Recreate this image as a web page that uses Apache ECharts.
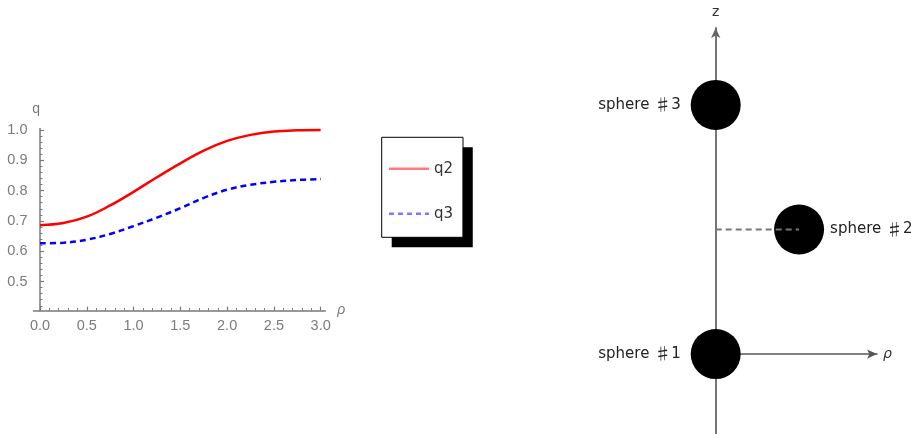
<!DOCTYPE html>
<html>
<head>
<meta charset="utf-8">
<script src="https://cdn.jsdelivr.net/npm/echarts@6/dist/echarts.min.js"></script>
<style>
html,body{margin:0;padding:0;background:#fff;}
#chart{width:911px;height:434px;}
</style>
</head>
<body>
<div id="chart"></div>
<script>
// ---- data (left plot) ----
const rho = [0, 0.25, 0.5, 0.75, 1.0, 1.25, 1.5, 1.75, 2.0, 2.25, 2.5, 2.75, 3.0];
const q2  = [0.686, 0.693, 0.714, 0.751, 0.796, 0.844, 0.890, 0.932, 0.964, 0.984, 0.995, 0.999, 1.000];
const q3  = [0.626, 0.628, 0.638, 0.657, 0.683, 0.711, 0.742, 0.776, 0.803, 0.819, 0.829, 0.835, 0.838];
const seriesNames = ['q2', 'q3'];

// tick labels / tick positions
const xMajorTicks = [0, 0.5, 1.0, 1.5, 2.0, 2.5, 3.0];
const xMinorTicks = [0.1, 0.2, 0.3, 0.4, 0.6, 0.7, 0.8, 0.9, 1.1, 1.2, 1.3, 1.4, 1.6, 1.7, 1.8, 1.9, 2.1, 2.2, 2.3, 2.4, 2.6, 2.7, 2.8, 2.9];
const yMajorTicks = [0.5, 0.6, 0.7, 0.8, 0.9, 1.0];
const yMinorTicks = [0.42, 0.44, 0.46, 0.48, 0.52, 0.54, 0.56, 0.58, 0.62, 0.64, 0.66, 0.68, 0.72, 0.74, 0.76, 0.78, 0.82, 0.84, 0.86, 0.88, 0.92, 0.94, 0.96, 0.98];

// ---- data (right diagram) ----
const sphereWord = 'sphere';
const sphereMark = '\u266F';
const sphereIds = ['1', '2', '3'];
const sphereRho = [0, 0.335, 0];
const sphereZ = [0, 0.5, 1.0];

const pairs = (xs, ys) => xs.map((x, i) => [x, ys[i]]);

const axisGray = '#7a7a7a';
const labelGray = '#7c7c7c';
const clear = 'rgba(0,0,0,0)';

const chart = echarts.init(document.getElementById('chart'), null, {renderer: 'canvas'});

const xMin = -0.07, xMax = 3.05, yMin = 0.404, yMax = 1.005;

const legendBase = {
  orient: 'vertical',
  left: 381.7, top: 137.3,
  padding: [24, 10, 16, 6],
  itemGap: 30,
  itemWidth: 40, itemHeight: 14,
  textStyle: {color: '#333', fontSize: 15, fontFamily: 'DejaVu Sans'}
};

const option = {
  backgroundColor: '#fff',
  animation: false,
  grid: [
    {left: 33.45, width: 291.9, top: 128.5, height: 182.1},
    {left: 715.7, width: 161.3, top: 28, height: 406}
  ],
  xAxis: [
    {
      type: 'value', gridIndex: 0, min: xMin, max: xMax,
      position: 'bottom',
      axisLine: {onZero: false, lineStyle: {color: axisGray, width: 1.5}},
      axisTick: {inside: true, length: 4, customValues: xMajorTicks, lineStyle: {color: axisGray, width: 1.2}},
      axisLabel: {customValues: xMajorTicks, margin: 8, color: labelGray, fontSize: 14.5,
                  fontFamily: 'Liberation Sans', formatter: v => v.toFixed(1)},
      splitLine: {show: false},
      name: '\u03C1', nameLocation: 'end', nameGap: 12,
      nameTextStyle: {color: labelGray, fontSize: 14, fontStyle: 'italic', fontFamily: 'Liberation Sans', verticalAlign: 'middle'}
    },
    {
      type: 'value', gridIndex: 0, min: xMin, max: xMax,
      position: 'bottom',
      axisLine: {show: false, onZero: false},
      axisTick: {inside: true, length: 2.5, customValues: xMinorTicks, lineStyle: {color: axisGray, width: 1}},
      axisLabel: {show: false},
      splitLine: {show: false}
    },
    {
      type: 'value', gridIndex: 1, min: 0, max: 0.648,
      axisLine: {onZero: true, symbol: ['none', 'arrow'], symbolSize: [7, 10], lineStyle: {color: '#555', width: 1.5}},
      axisTick: {show: false}, axisLabel: {show: false}, splitLine: {show: false},
      name: '\u03C1', nameLocation: 'end', nameGap: 6,
      nameTextStyle: {color: '#333', fontSize: 14, fontStyle: 'italic', fontFamily: 'DejaVu Sans'}
    }
  ],
  yAxis: [
    {
      type: 'value', gridIndex: 0, min: yMin, max: yMax,
      position: 'left',
      axisLine: {onZero: true, onZeroAxisIndex: 0, lineStyle: {color: axisGray, width: 1.5}},
      axisTick: {inside: true, length: 4, customValues: yMajorTicks, lineStyle: {color: axisGray, width: 1.2}},
      axisLabel: {customValues: yMajorTicks, margin: 6, color: labelGray, fontSize: 14.5,
                  fontFamily: 'Liberation Sans', formatter: v => v.toFixed(1)},
      splitLine: {show: false},
      name: 'q', nameLocation: 'end', nameGap: 12,
      nameTextStyle: {color: labelGray, fontSize: 14, fontFamily: 'Liberation Sans', align: 'right'}
    },
    {
      type: 'value', gridIndex: 0, min: yMin, max: yMax,
      position: 'left',
      axisLine: {show: false, onZero: true, onZeroAxisIndex: 1},
      axisTick: {inside: true, length: 2.5, customValues: yMinorTicks, lineStyle: {color: axisGray, width: 1}},
      axisLabel: {show: false},
      splitLine: {show: false}
    },
    {
      type: 'value', gridIndex: 1, min: -0.321, max: 1.309,
      axisLine: {onZero: true, symbol: ['none', 'arrow'], symbolSize: [7, 10], lineStyle: {color: '#666', width: 1.8}},
      axisTick: {show: false}, axisLabel: {show: false}, splitLine: {show: false},
      name: 'z', nameLocation: 'end', nameGap: 9,
      nameTextStyle: {color: '#333', fontSize: 14, fontFamily: 'DejaVu Sans'}
    }
  ],
  legend: [
    Object.assign({}, legendBase, {
      z: 1,
      backgroundColor: '#fff', borderWidth: 0,
      shadowColor: '#000', shadowBlur: 0, shadowOffsetX: 10, shadowOffsetY: 10,
      textStyle: Object.assign({}, legendBase.textStyle, {color: clear}),
      data: [
        {name: seriesNames[0], lineStyle: {color: clear}, itemStyle: {color: clear, opacity: 0, borderWidth: 0}},
        {name: seriesNames[1], lineStyle: {color: clear}, itemStyle: {color: clear, opacity: 0, borderWidth: 0}}
      ]
    }),
    Object.assign({}, legendBase, {
      z: 2,
      backgroundColor: clear, borderColor: '#000', borderWidth: 1,
      data: [
        {name: seriesNames[0], lineStyle: {color: '#ff7a7a', width: 2.5}, itemStyle: {color: clear, opacity: 0, borderWidth: 0}},
        {name: seriesNames[1], lineStyle: {color: '#7a7aff', width: 2.5, type: [5, 4]}, itemStyle: {color: clear, opacity: 0, borderWidth: 0}}
      ]
    })
  ],
  series: [
    {
      name: seriesNames[0], type: 'line', xAxisIndex: 0, yAxisIndex: 0,
      data: pairs(rho, q2), smooth: 0.4, symbol: 'none',
      lineStyle: {color: '#ff0000', width: 2.5}, itemStyle: {color: '#ff0000'}
    },
    {
      name: seriesNames[1], type: 'line', xAxisIndex: 0, yAxisIndex: 0,
      data: pairs(rho, q3), smooth: 0.4, symbol: 'none',
      lineStyle: {color: '#0000ff', width: 2.5, type: [6, 4]}, itemStyle: {color: '#0000ff'}
    },
    {
      type: 'line', xAxisIndex: 2, yAxisIndex: 2,
      data: [[0, sphereZ[1]], [sphereRho[1], sphereZ[1]]],
      symbol: 'none', silent: true,
      lineStyle: {color: '#777', width: 2, type: [6, 4]}
    },
    {
      type: 'scatter', xAxisIndex: 2, yAxisIndex: 2,
      symbol: 'circle', symbolSize: 50,
      itemStyle: {color: '#000', opacity: 1},
      data: sphereIds.map((id, i) => ({
        name: id, value: [sphereRho[i], sphereZ[i]],
        label: {
          show: true, position: i === 1 ? 'right' : 'left', distance: i === 1 ? 6 : 10,
          formatter: '{t|' + sphereWord + ' }{s|' + sphereMark + '}{t|' + id + '}',
          rich: {
            t: {color: '#222', fontSize: 15, fontFamily: 'DejaVu Sans'},
            s: {color: '#222', fontSize: 17, fontFamily: 'Noto Sans CJK JP'}
          }
        }
      }))
    }
  ]
};
chart.setOption(option);
</script>
</body>
</html>
